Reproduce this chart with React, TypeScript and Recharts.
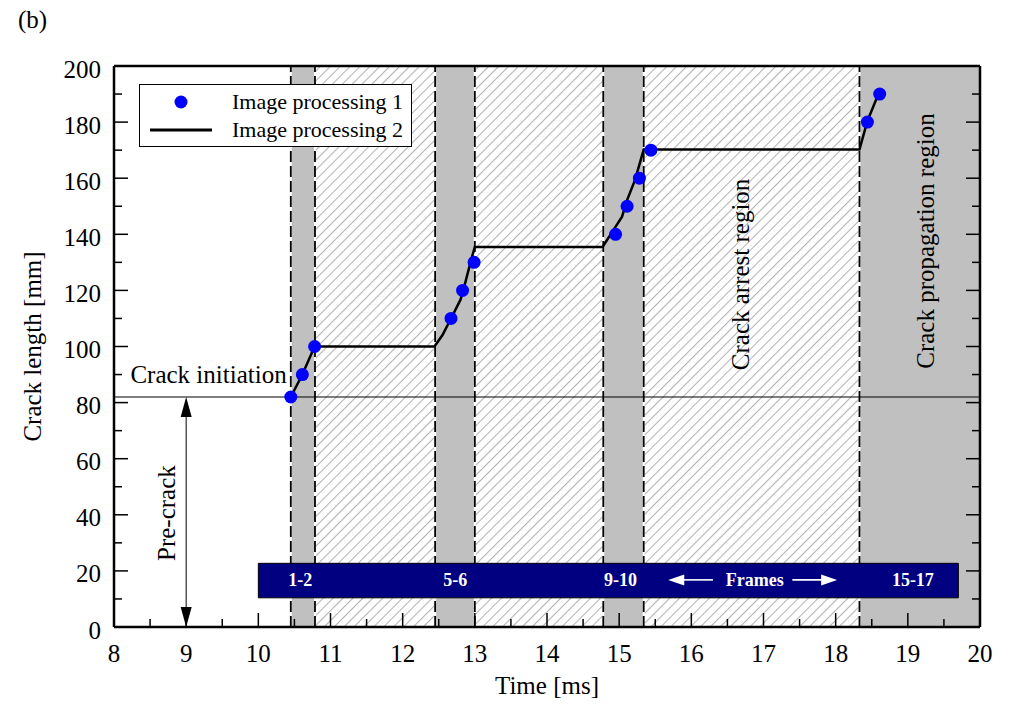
import {
  ComposedChart,
  Line,
  Scatter,
  XAxis,
  YAxis,
  ReferenceArea,
  ReferenceLine,
  ReferenceDot,
} from 'recharts'

// measured points (image processing 1)
const pointTime = [10.45, 10.61, 10.78, 12.67, 12.83, 12.99, 14.95, 15.11, 15.28, 15.44, 18.44, 18.61]
const pointLength = [82, 90, 100, 110, 120, 130, 140, 150, 160, 170, 180, 190]

// traced curve (image processing 2)
const lineTime = [10.45, 10.61, 10.78, 12.44, 12.55, 12.67, 12.8, 12.84, 12.94, 13.0, 14.77, 14.92, 15.04, 15.11, 15.22, 15.34, 18.33, 18.44, 18.6]
const lineLength = [82, 90, 100, 100, 104, 110, 116.6, 120, 130, 135.5, 135.5, 141.5, 146.3, 152.2, 159.4, 170.2, 170.2, 180.4, 190.5]

// regions
const grayStart = [10.45, 12.45, 14.78, 18.33]
const grayEnd = [10.785, 13.0, 15.34, 20]
const hatchStart = [10.785, 13.0, 15.34]
const hatchEnd = [12.45, 14.78, 18.33]
const boundaries = [10.45, 10.785, 12.45, 13.0, 14.78, 15.34, 18.33]

const crackInit = 82

// frames bar
const frameBar = { x1: 10, x2: 19.7, y1: 10.4, y2: 22.7 }
const frameLabels = ['1-2', '5-6', '9-10', '15-17']
const frameLabelTime = [10.58, 12.73, 15.02, 19.07]
const frameLabelY = 14.7

const xTicks = Array.from({ length: 25 }, (_, i) => 8 + i * 0.5)
const yTicks = Array.from({ length: 21 }, (_, i) => i * 10)

const PLOT = { left: 114, right: 980, top: 66, bottom: 627 }
const FONT = '"Liberation Serif", "Times New Roman", serif'

const pointData = pointTime.map((t, i) => ({ t, len: pointLength[i] }))
const lineData = lineTime.map((t, i) => ({ t, len: lineLength[i] }))

const BottomTick = ({ x, payload }: any) => {
  const v = payload.value
  const major = Number.isInteger(v)
  return (
    <g>
      <line x1={x} x2={x} y1={PLOT.bottom} y2={PLOT.bottom - (major ? 14 : 8)} stroke="#000" strokeWidth={1.5} />
      {major && (
        <text x={x} y={PLOT.bottom + 35} textAnchor="middle" fontSize={25} fontFamily={FONT} fill="#000">
          {v}
        </text>
      )}
    </g>
  )
}

const TopTick = ({ x, payload }: any) => {
  const major = Number.isInteger(payload.value)
  return <line x1={x} x2={x} y1={PLOT.top} y2={PLOT.top + (major ? 14 : 8)} stroke="#000" strokeWidth={1.5} />
}

const LeftTick = ({ y, payload }: any) => {
  const v = payload.value
  const major = v % 20 === 0
  return (
    <g>
      <line x1={PLOT.left} x2={PLOT.left + (major ? 14 : 8)} y1={y} y2={y} stroke="#000" strokeWidth={1.5} />
      {major && (
        <text x={PLOT.left - 13} y={y + 11.5} textAnchor="end" fontSize={25} fontFamily={FONT} fill="#000">
          {v}
        </text>
      )}
    </g>
  )
}

const RightTick = ({ y, payload }: any) => {
  const major = payload.value % 20 === 0
  return <line x1={PLOT.right} x2={PLOT.right - (major ? 14 : 8)} y1={y} y2={y} stroke="#000" strokeWidth={1.5} />
}

// line with arrow head(s)
const arrowShape = (color: string, width: number, headLen: number, headHalf: number, start: boolean, end: boolean) =>
  (p: any) => {
    const { x1, y1, x2, y2 } = p
    const dx = x2 - x1
    const dy = y2 - y1
    const L = Math.hypot(dx, dy) || 1
    const ux = dx / L
    const uy = dy / L
    const head = (tx: number, ty: number, sx: number, sy: number) => {
      const bx = tx - sx * headLen
      const by = ty - sy * headLen
      return `${tx},${ty} ${bx - sy * headHalf},${by + sx * headHalf} ${bx + sy * headHalf},${by - sx * headHalf}`
    }
    return (
      <g>
        <line
          x1={start ? x1 + ux * headLen * 0.8 : x1}
          y1={start ? y1 + uy * headLen * 0.8 : y1}
          x2={end ? x2 - ux * headLen * 0.8 : x2}
          y2={end ? y2 - uy * headLen * 0.8 : y2}
          stroke={color}
          strokeWidth={width}
        />
        {start && <polygon points={head(x1, y1, -ux, -uy)} fill={color} />}
        {end && <polygon points={head(x2, y2, ux, uy)} fill={color} />}
      </g>
    )
  }

const textShape = (label: string, opts: any) => (p: any) => {
  const { cx, cy } = p
  const rot = opts.rotate ? `rotate(${opts.rotate} ${cx} ${cy})` : undefined
  return (
    <text
      x={cx}
      y={cy}
      transform={rot}
      textAnchor={opts.anchor || 'middle'}
      fontSize={opts.size || 25}
      fontWeight={opts.bold ? 'bold' : 'normal'}
      fontFamily={FONT}
      fill={opts.fill || '#000'}
    >
      {label}
    </text>
  )
}

export default function App() {
  return (
    <div style={{ position: 'absolute', left: 0, top: 0, width: 1009, height: 711, background: '#fff', fontFamily: FONT }}>
      <svg width={0} height={0} style={{ position: 'absolute' }}>
        <defs>
          <pattern id="hatch" patternUnits="userSpaceOnUse" width={7} height={7} patternTransform="rotate(45)">
            <rect width={7} height={7} fill="#fff" />
            <line x1={0.5} y1={0} x2={0.5} y2={7} stroke="#b4b4b4" strokeWidth={1.1} />
          </pattern>
        </defs>
      </svg>

      <div style={{ position: 'absolute', left: 18, top: 6, fontSize: 25, color: '#000' }}>(b)</div>

      <ComposedChart width={1009} height={711} margin={{ top: 65, right: 28, bottom: 24, left: 0 }}>
        <XAxis
          xAxisId={0}
          type="number"
          dataKey="t"
          domain={[8, 20]}
          ticks={xTicks}
          interval={0}
          allowDataOverflow
          height={60}
          axisLine={{ stroke: '#000', strokeWidth: 2.5 }}
          tickLine={false}
          tick={BottomTick}
          label={(p: any) => {
            const vb = p.viewBox
            return (
              <text x={vb.x + vb.width / 2} y={694} textAnchor="middle" fontSize={25} fontFamily={FONT} fill="#000">
                Time [ms]
              </text>
            )
          }}
        />
        <XAxis
          xAxisId="top"
          orientation="top"
          type="number"
          domain={[8, 20]}
          ticks={xTicks}
          interval={0}
          allowDataOverflow
          height={1}
          axisLine={{ stroke: '#000', strokeWidth: 2.5 }}
          tickLine={false}
          tick={TopTick}
        />
        <YAxis
          yAxisId={0}
          type="number"
          domain={[0, 200]}
          ticks={yTicks}
          interval={0}
          allowDataOverflow
          width={114}
          axisLine={{ stroke: '#000', strokeWidth: 2.5 }}
          tickLine={false}
          tick={LeftTick}
          label={(p: any) => {
            const vb = p.viewBox
            const cy = vb.y + vb.height / 2
            return (
              <text x={41} y={cy} transform={`rotate(-90 41 ${cy})`} textAnchor="middle" fontSize={25} fontFamily={FONT} fill="#000">
                Crack length [mm]
              </text>
            )
          }}
        />
        <YAxis
          yAxisId="right"
          orientation="right"
          type="number"
          domain={[0, 200]}
          ticks={yTicks}
          interval={0}
          allowDataOverflow
          width={1}
          axisLine={{ stroke: '#000', strokeWidth: 2.5 }}
          tickLine={false}
          tick={RightTick}
        />

        {hatchStart.map((s, i) => (
          <ReferenceArea key={'h' + i} x1={s} x2={hatchEnd[i]} y1={0} y2={200} fill="url(#hatch)" fillOpacity={1} stroke="none" zIndex={10} />
        ))}
        {grayStart.map((s, i) => (
          <ReferenceArea key={'g' + i} x1={s} x2={grayEnd[i]} y1={0} y2={200} fill="#c0c0c0" fillOpacity={1} stroke="none" zIndex={10} />
        ))}
        {boundaries.map((b) => (
          <ReferenceLine key={'w' + b} x={b} stroke="#fff" strokeWidth={2} zIndex={20} />
        ))}
        {boundaries.map((b) => (
          <ReferenceLine key={'d' + b} x={b} stroke="#000" strokeWidth={1.8} strokeDasharray="11 4" zIndex={21} />
        ))}
        <ReferenceLine y={crackInit} stroke="#000" strokeWidth={1.2} zIndex={30} />

        <ReferenceArea
          x1={frameBar.x1}
          x2={frameBar.x2}
          y1={frameBar.y1}
          y2={frameBar.y2}
          fill="#000080"
          fillOpacity={1}
          stroke="#000"
          strokeWidth={1}
          zIndex={40}
        />
        {frameLabels.map((l, i) => (
          <ReferenceDot key={l} x={frameLabelTime[i]} y={frameLabelY} r={0} zIndex={50} shape={textShape(l, { size: 18, bold: true, fill: '#fff' })} />
        ))}
        <ReferenceDot x={16.88} y={frameLabelY} r={0} zIndex={50} shape={textShape('Frames', { size: 18, bold: true, fill: '#fff' })} />
        <ReferenceLine
          segment={[{ x: 16.3, y: 16.8 }, { x: 15.68, y: 16.8 }]}
          zIndex={50}
          shape={arrowShape('#fff', 1.6, 16, 5.5, false, true)}
        />
        <ReferenceLine
          segment={[{ x: 17.4, y: 16.8 }, { x: 18.02, y: 16.8 }]}
          zIndex={50}
          shape={arrowShape('#fff', 1.6, 16, 5.5, false, true)}
        />

        <ReferenceLine
          segment={[{ x: 9, y: 0 }, { x: 9, y: crackInit }]}
          zIndex={50}
          shape={arrowShape('#000', 1, 20, 5.5, true, true)}
        />
        <ReferenceDot x={8.85} y={40.6} r={0} zIndex={55} shape={textShape('Pre-crack', { rotate: -90 })} />
        <ReferenceDot x={9.31} y={87} r={0} zIndex={55} shape={textShape('Crack initiation', {})} />
        <ReferenceDot x={16.8} y={125.7} r={0} zIndex={55} shape={textShape('Crack arrest region', { rotate: -90 })} />
        <ReferenceDot x={19.36} y={137.6} r={0} zIndex={55} shape={textShape('Crack propagation region', { rotate: -90 })} />

        <Line
          data={lineData}
          dataKey="len"
          type="linear"
          stroke="#000"
          strokeWidth={2.5}
          dot={false}
          activeDot={false}
          isAnimationActive={false}
          zIndex={60}
        />
        <Scatter
          data={pointData}
          dataKey="len"
          fill="#0000ff"
          isAnimationActive={false}
          zIndex={80}
          shape={(p: any) => <circle cx={p.cx} cy={p.cy} r={6.5} fill="#0000ff" />}
        />
      </ComposedChart>

      <div
        style={{
          position: 'absolute',
          left: 139,
          top: 84,
          width: 273,
          height: 63,
          boxSizing: 'border-box',
          border: '1.5px solid #000',
          background: '#fff',
          fontSize: 22,
          color: '#000',
        }}
      >
        <svg width={90} height={60} style={{ position: 'absolute', left: 0, top: 0 }}>
          <circle cx={41} cy={17} r={6.5} fill="#0000ff" />
          <line x1={10} x2={72} y1={45} y2={45} stroke="#000" strokeWidth={3} />
        </svg>
        <div style={{ position: 'absolute', left: 92, top: 3, lineHeight: '28px', whiteSpace: 'nowrap' }}>
          Image processing 1
        </div>
        <div style={{ position: 'absolute', left: 92, top: 31, lineHeight: '28px', whiteSpace: 'nowrap' }}>
          Image processing 2
        </div>
      </div>
    </div>
  )
}
